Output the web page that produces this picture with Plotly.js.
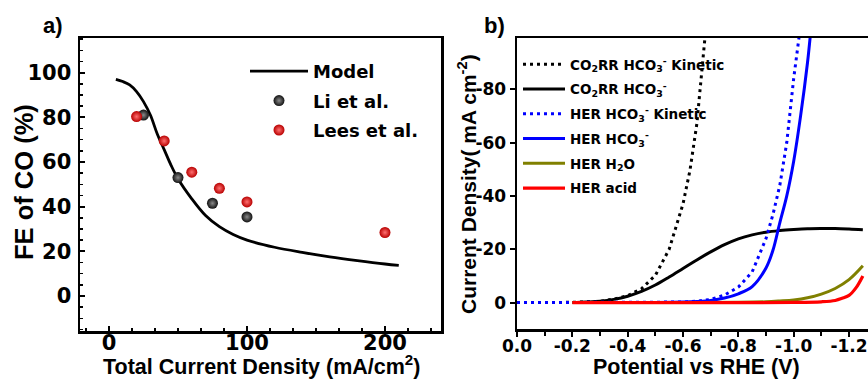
<!DOCTYPE html>
<html>
<head>
<meta charset="utf-8">
<script src="https://cdn.plot.ly/plotly-3.0.1.min.js"></script>
<style>html,body{margin:0;padding:0;background:#fff;}#chart{width:868px;height:379px;}</style>
</head>
<body>
<div id="chart"></div>
<script>
// ---------- Panel a data ----------
const modelX = [5, 10, 15, 20, 25, 30, 35, 40, 45, 50, 60, 70, 80, 90, 100, 120, 140, 160, 180, 200, 210];
const modelY = [97, 96, 94.5, 91.5, 87, 81, 72.5, 65.5, 58.5, 52.5, 43.5, 36, 31, 27.5, 25, 21.8, 19.5, 17.5, 15.8, 14.3, 13.7];
const liX = [25, 50, 75, 100];
const liY = [81, 53, 41.5, 35.4];
const leesX = [20, 40, 60, 80, 100, 200];
const leesY = [80.3, 69.4, 55.4, 48.2, 42.1, 28.4];
const aYTicks = [0, 20, 40, 60, 80, 100];
const aXTicks = [0, 100, 200];

// ---------- Panel b data ----------
const co2KinX = [0, -0.1, -0.2, -0.3, -0.35, -0.4, -0.45, -0.5, -0.55, -0.6, -0.625, -0.65, -0.67, -0.68];
const co2KinY = [0, 0, -0.1, -0.5, -1.3, -2.6, -5.2, -10.2, -20, -37, -49.5, -67, -88, -100];
const co2X = [-0.2, -0.25, -0.3, -0.35, -0.4, -0.45, -0.5, -0.55, -0.6, -0.65, -0.7, -0.75, -0.8, -0.85, -0.9, -0.95, -1.0, -1.05, -1.1, -1.15, -1.2, -1.25];
const co2Y = [0, -0.2, -0.5, -1.2, -2.4, -4.2, -6.6, -9.6, -12.8, -16, -19, -21.7, -23.9, -25.4, -26.4, -27, -27.4, -27.7, -27.8, -27.8, -27.6, -27.3];
const herKinX = [0, -0.1, -0.2, -0.3, -0.4, -0.5, -0.6, -0.65, -0.7, -0.75, -0.8, -0.85, -0.9, -0.925, -0.95, -0.975, -1.0, -1.02];
const herKinY = [0, 0, 0, 0, 0, -0.05, -0.2, -0.5, -1.2, -2.8, -5.8, -11.5, -24, -33, -44, -60, -84, -100];
const herX = [-0.2, -0.3, -0.4, -0.5, -0.6, -0.65, -0.7, -0.75, -0.8, -0.85, -0.9, -0.925, -0.95, -0.975, -1.0, -1.025, -1.05, -1.06];
const herY = [0, 0, 0, -0.05, -0.2, -0.4, -0.8, -1.7, -3.3, -6, -13, -19.6, -30, -40, -53, -70, -90, -100];
const h2oX = [-0.2, -0.4, -0.6, -0.8, -0.9, -0.95, -1.0, -1.05, -1.1, -1.15, -1.2, -1.25];
const h2oY = [0, 0, 0, -0.1, -0.3, -0.6, -1.0, -1.8, -3.2, -5.3, -8.6, -13.8];
const acidX = [-0.2, -0.5, -0.8, -1.0, -1.1, -1.15, -1.175, -1.2, -1.225, -1.25];
const acidY = [0, 0, 0, -0.05, -0.3, -0.8, -1.6, -2.7, -5.5, -10];
const bXTicks = [0, -0.2, -0.4, -0.6, -0.8, -1.0, -1.2];
const bXTickText = ['0.0', '-0.2', '-0.4', '-0.6', '-0.8', '-1.0', '-1.2'];
const bYTicks = [0, -20, -40, -60, -80];
const bYTickText = ['0', '-20', '-40', '-60', '-80'];

// ---------- helpers ----------
const W = 868, H = 379;
const px = v => v / W;
const py = v => 1 - v / H;
const tickFont = s => ({family: 'DejaVu Sans', size: s, color: '#000', weight: 'bold'});
const titleFont = s => ({family: 'Liberation Sans, Arial', size: s, color: '#000', weight: 'bold'});
const ann = (text, x, y, size, angle) => ({text: text, x: px(x), y: py(y), xref: 'paper', yref: 'paper',
  xanchor: 'center', yanchor: 'middle', showarrow: false, borderpad: 0, textangle: angle || 0, font: titleFont(size)});

const traces = [
  {x: modelX, y: modelY, name: 'Model', mode: 'lines', line: {color: '#000', width: 2.8, shape: 'spline'},
   xaxis: 'x', yaxis: 'y', legend: 'legend', legendgroup: 'a1'},
  {x: liX, y: liY, name: 'Li et al.', mode: 'markers',
   marker: {color: '#111', size: 11, gradient: {type: 'radial', color: '#8a8a8a'}, line: {width: 0}},
   xaxis: 'x', yaxis: 'y', legend: 'legend', legendgroup: 'a2'},
  {x: leesX, y: leesY, name: 'Lees et al.', mode: 'markers',
   marker: {color: '#b80000', size: 11, gradient: {type: 'radial', color: '#ff7070'}, line: {width: 0}},
   xaxis: 'x', yaxis: 'y', legend: 'legend', legendgroup: 'a3'},

  {x: co2KinX, y: co2KinY, name: 'CO<sub>2</sub>RR HCO<sub>3</sub><sup>-</sup> Kinetic', mode: 'lines',
   line: {color: '#000', width: 3, dash: '3px,4px'}, xaxis: 'x2', yaxis: 'y2', legend: 'legend2', legendgroup: 'b1'},
  {x: co2X, y: co2Y, name: 'CO<sub>2</sub>RR HCO<sub>3</sub><sup>-</sup>', mode: 'lines',
   line: {color: '#000', width: 3, shape: 'spline'}, xaxis: 'x2', yaxis: 'y2', legend: 'legend2', legendgroup: 'b2'},
  {x: herKinX, y: herKinY, name: 'HER HCO<sub>3</sub><sup>-</sup> Kinetic', mode: 'lines',
   line: {color: '#0000ff', width: 3, dash: '3px,4px'}, xaxis: 'x2', yaxis: 'y2', legend: 'legend2', legendgroup: 'b3'},
  {x: herX, y: herY, name: 'HER HCO<sub>3</sub><sup>-</sup>', mode: 'lines',
   line: {color: '#0000ff', width: 3, shape: 'spline'}, xaxis: 'x2', yaxis: 'y2', legend: 'legend2', legendgroup: 'b4'},
  {x: h2oX, y: h2oY, name: 'HER H<sub>2</sub>O', mode: 'lines',
   line: {color: '#808000', width: 3, shape: 'spline'}, xaxis: 'x2', yaxis: 'y2', legend: 'legend2', legendgroup: 'b5'},
  {x: acidX, y: acidY, name: 'HER acid', mode: 'lines',
   line: {color: '#ff0000', width: 3.2, shape: 'spline'}, xaxis: 'x2', yaxis: 'y2', legend: 'legend2', legendgroup: 'b6'}
];

const axisCommon = {showgrid: false, zeroline: false, showline: true, linecolor: '#000', linewidth: 2.5,
  tickcolor: '#000', tickwidth: 2, fixedrange: true, automargin: false};

const layout = {
  width: W, height: H,
  margin: {l: 0, r: 0, t: 0, b: 0},
  paper_bgcolor: '#fff', plot_bgcolor: '#fff',
  showlegend: true,
  xaxis: Object.assign({}, axisCommon, {
    domain: [px(80), px(441)], range: [-21, 240.6], mirror: true,
    tickmode: 'array', tickvals: aXTicks, ticks: 'inside', ticklen: 5, ticklabelstandoff: -9,
    minor: {dtick: 100 / 6, ticks: 'inside', ticklen: 3, tickcolor: '#000', tickwidth: 1.5},
    tickfont: tickFont(21), anchor: 'y'}),
  yaxis: Object.assign({}, axisCommon, {
    domain: [py(331), py(38)], range: [-15.7, 115.5], mirror: true,
    tickmode: 'array', tickvals: aYTicks, ticks: 'inside', ticklen: 5, ticklabelstandoff: 2,
    minor: {dtick: 5, ticks: 'inside', ticklen: 2.5, tickcolor: '#000', tickwidth: 1.5},
    tickfont: tickFont(21), anchor: 'x'}),
  xaxis2: Object.assign({}, axisCommon, {
    domain: [px(517), 1], range: [0, -1.2686], mirror: true,
    tickmode: 'array', tickvals: bXTicks, ticktext: bXTickText, ticks: 'outside', ticklen: 5, ticklabelstandoff: -5,
    minor: {dtick: 0.1, ticks: 'outside', ticklen: 4, tickcolor: '#000', tickwidth: 2},
    tickfont: tickFont(17), anchor: 'y2'}),
  yaxis2: Object.assign({}, axisCommon, {
    domain: [py(329), py(38)], range: [9.9, -99.2], mirror: false,
    tickmode: 'array', tickvals: bYTicks, ticktext: bYTickText, ticks: 'outside', ticklen: 5,
    tickfont: tickFont(17), anchor: 'x2'}),
  legend: {x: px(245), y: py(53), xanchor: 'left', yanchor: 'top', bgcolor: 'rgba(0,0,0,0)',
    font: {family: 'DejaVu Sans', size: 18, color: '#000', weight: 'bold'},
    traceorder: 'grouped', tracegroupgap: 3, itemwidth: 58},
  legend2: {x: px(518), y: py(49), xanchor: 'left', yanchor: 'top', bgcolor: 'rgba(0,0,0,0)',
    font: {family: 'DejaVu Sans', size: 13.5, color: '#000', weight: 'bold'},
    traceorder: 'grouped', tracegroupgap: 4.2, itemwidth: 42},
  annotations: [
    ann('a)', 53, 26, 22),
    ann('b)', 494, 26, 22),
    ann('FE of CO (%)', 24, 182, 25.5, -90),
    ann('Total Current Density (mA/cm<sup>2</sup>)', 261, 365, 21.5),
    ann('Current Density( mA cm<sup>-2</sup>)', 467, 184, 21, -90),
    ann('Potential vs RHE (V)', 696, 367, 21.5)
  ]
};

Plotly.newPlot('chart', traces, layout, {staticPlot: true, displayModeBar: false});
</script>
</body>
</html>
